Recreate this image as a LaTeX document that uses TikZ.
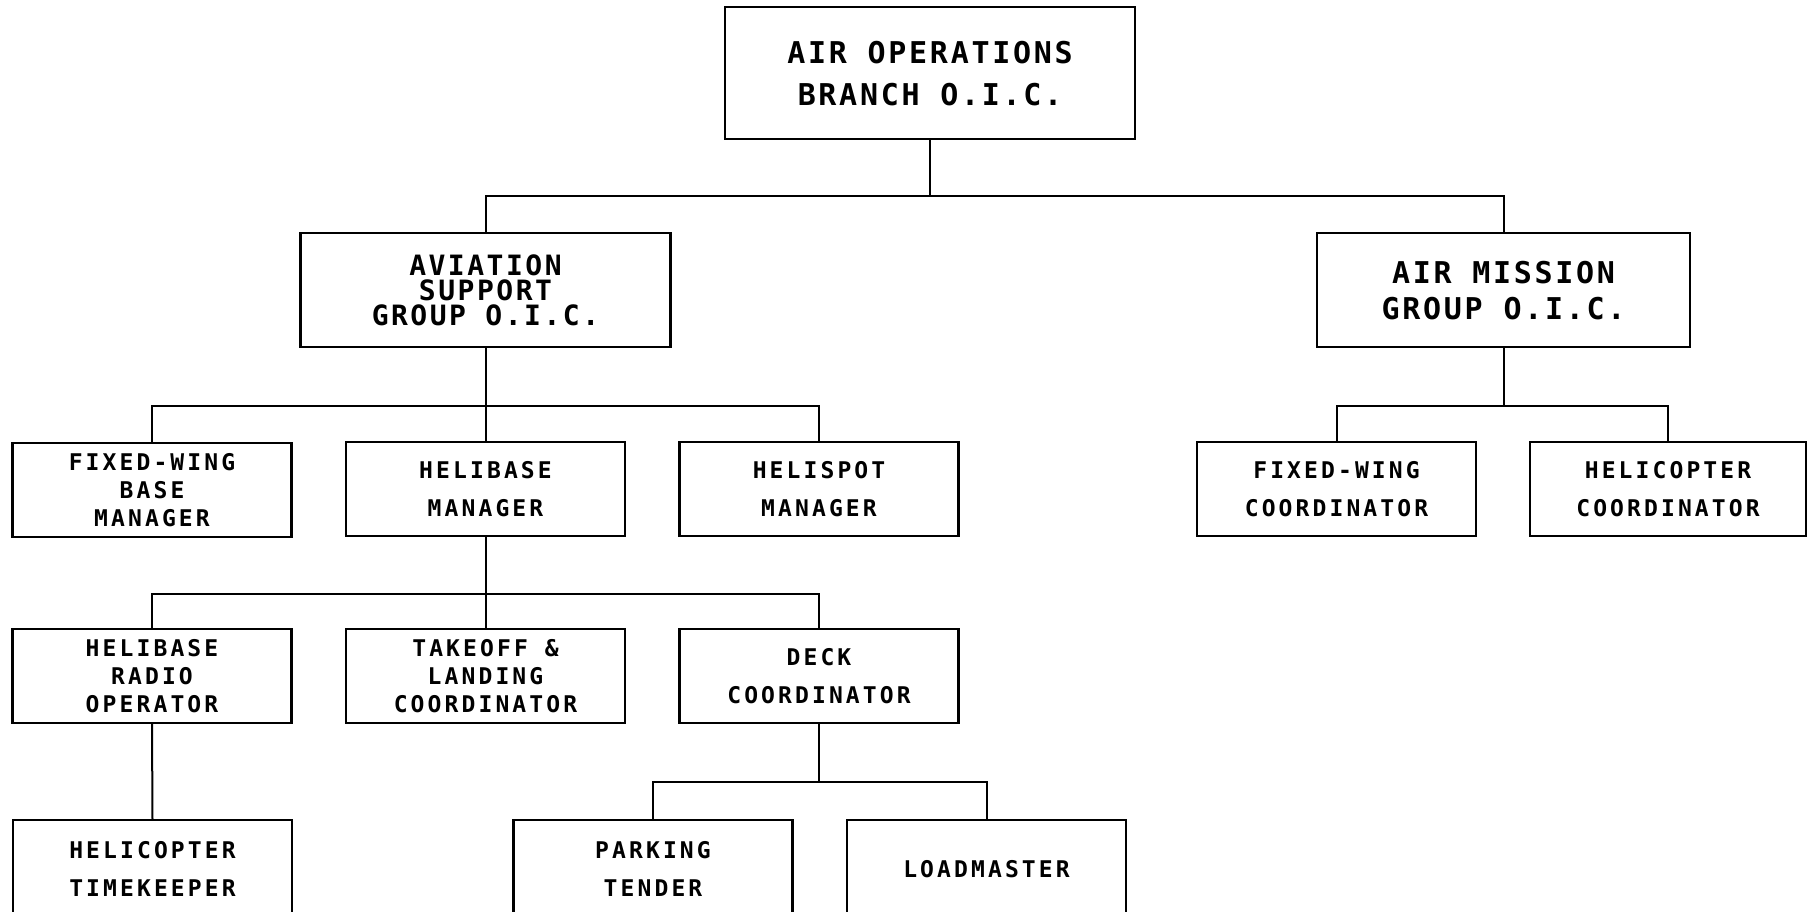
\documentclass[tikz,border=0pt]{standalone}
\usepackage{fontspec}
% Stroke-like monospaced lettering with open tracking
\newfontfamily\plotbig[LetterSpace=9]{DejaVu Sans Mono Bold}
\newfontfamily\plotsmall[LetterSpace=13.5]{DejaVu Sans Mono Bold}

\begin{document}
\begin{tikzpicture}[x=1pt,y=-1pt,
  orgbox/.style={draw, line width=2.2pt, rectangle, inner sep=0pt,
    align=center, text depth=0pt},
  bigtext/.style={font={\plotbig\fontsize{30}{#1}\selectfont}},
  smalltext/.style={font={\plotsmall\fontsize{23}{#1}\selectfont}},
  wide/.style={orgbox, minimum width=370pt, minimum height=114pt},
  unit/.style={orgbox, minimum width=279pt, minimum height=94pt},
  link/.style={draw, line width=2pt}
]
\useasboundingbox[fill=white] (0,0) rectangle (1808,912);

% --- head of the branch
\node[orgbox, bigtext=42, minimum width=410pt, minimum height=132pt]
  (aob) at (930,73) {AIR OPERATIONS\\BRANCH O.I.C.};

% --- group level
\node[wide, font={\plotbig\fontsize{28}{25}\selectfont}] (asg) at (485.5,290) {AVIATION\\SUPPORT\\GROUP O.I.C.};
\node[wide, bigtext=36, minimum width=373pt] (amg) at (1503.5,290) {AIR MISSION\\GROUP O.I.C.};

% --- unit level
\node[unit, smalltext=28] (fwb) at (152,490) {FIXED-WING\\BASE\\MANAGER};
\node[unit, smalltext=38] (hbm) at (485.5,489) {HELIBASE\\MANAGER};
\node[unit, smalltext=38] (hsm) at (819,489) {HELISPOT\\MANAGER};
\node[unit, smalltext=38] (fwc) at (1336.5,489) {FIXED-WING\\COORDINATOR};
\node[unit, smalltext=38, minimum width=276pt] (hcc) at (1668,489) {HELICOPTER\\COORDINATOR};

% --- helibase positions
\node[unit, smalltext=28] (hro) at (152,676) {HELIBASE\\RADIO\\OPERATOR};
\node[unit, smalltext=28] (tlc) at (485.5,676) {TAKEOFF \&\\LANDING\\COORDINATOR};
\node[unit, smalltext=38] (dco) at (819,676) {DECK\\COORDINATOR};

% --- bottom row (runs off the lower edge)
\node[unit, smalltext=38, minimum height=98pt] (htk) at (152.5,869) {HELICOPTER\\TIMEKEEPER};
\node[unit, smalltext=38, minimum height=98pt] (prk) at (653,869) {PARKING\\TENDER};
\node[unit, smalltext=38, minimum height=98pt] (ldm) at (986.5,869) {LOADMASTER};

% --- junctions on the distribution bars
\coordinate (j0) at (930,196);
\coordinate (j1) at (485.5,406);
\coordinate (j2) at (1503.5,406);
\coordinate (j3) at (485.5,594);
\coordinate (j4) at (819,782);

% --- connectors
\draw[link] (aob.south) -- (j0);
\draw[link] (j0) -| (asg.north);
\draw[link] (j0) -| (amg.north);

\draw[link] (asg.south) -- (j1);
\draw[link] (j1) -| (fwb.north);
\draw[link] (j1) -- (hbm.north);
\draw[link] (j1) -| (hsm.north);

\draw[link] (amg.south) -- (j2);
\draw[link] (j2) -| (fwc.north);
\draw[link] (j2) -| (hcc.north);

\draw[link] (hbm.south) -- (j3);
\draw[link] (j3) -| (hro.north);
\draw[link] (j3) -- (tlc.north);
\draw[link] (j3) -| (dco.north);

\draw[link] (hro.south) -- (htk.north);
\draw[link] (dco.south) -- (j4);
\draw[link] (j4) -| (prk.north);
\draw[link] (j4) -| (ldm.north);
\end{tikzpicture}
\end{document}
